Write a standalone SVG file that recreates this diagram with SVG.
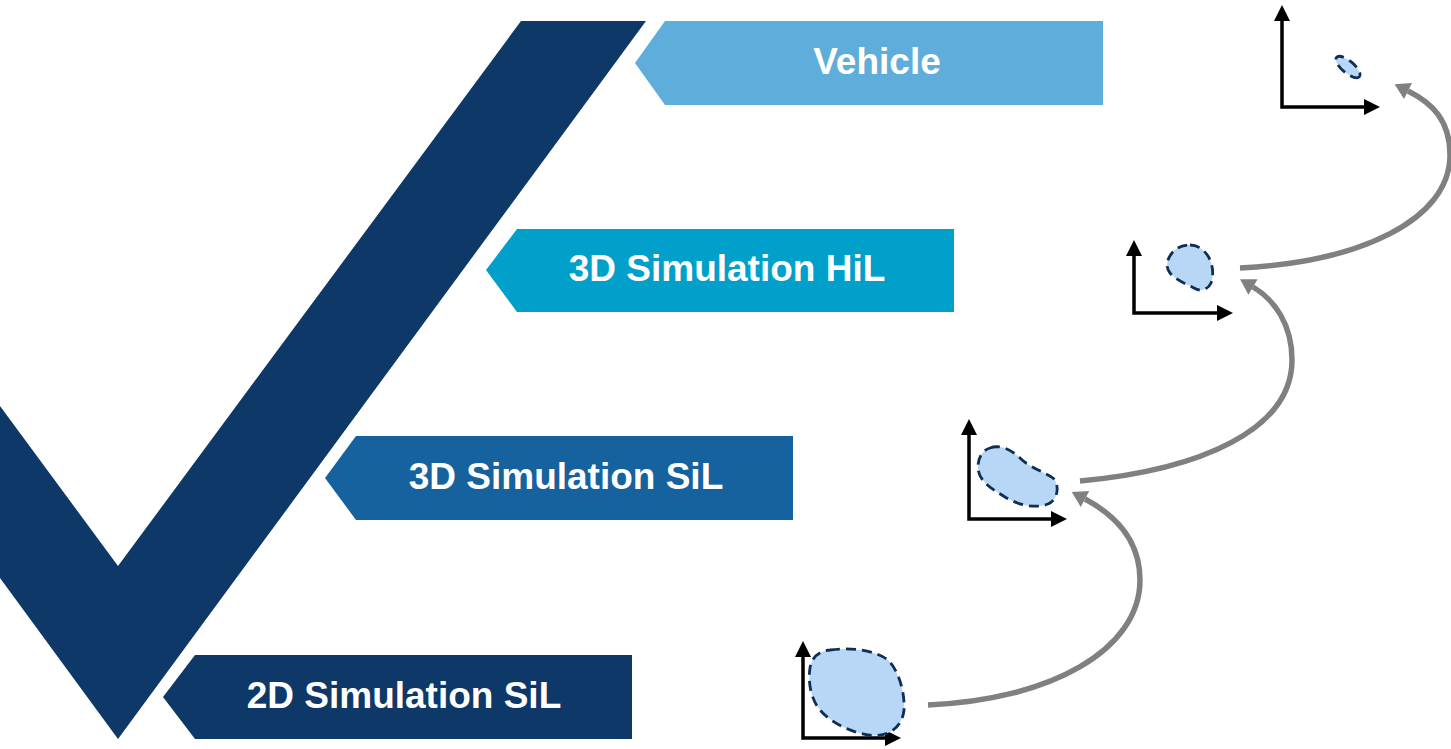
<svg xmlns="http://www.w3.org/2000/svg" width="1451" height="749" viewBox="0 0 1451 749">
<style>
.lbl{font-family:"Liberation Sans",Arial,sans-serif;font-weight:bold;font-size:37px;fill:#ffffff;text-anchor:middle}
.axis{fill:none;stroke:#000;stroke-width:3.5;marker-start:url(#ax);marker-end:url(#ax)}
.blob{fill:#B8D7F6;stroke:#0E2F55;stroke-width:2.8;stroke-dasharray:10 6}
.conn{fill:none;stroke:#808080;stroke-width:5.5;marker-end:url(#ga)}
</style>
<defs>
<marker id="ax" markerUnits="userSpaceOnUse" markerWidth="16" markerHeight="16" refX="0" refY="8" orient="auto-start-reverse" overflow="visible"><path d="M0,0 L16,8 L0,16 Z" fill="#000"/></marker>
<marker id="ga" markerUnits="userSpaceOnUse" markerWidth="16" markerHeight="18" refX="0" refY="9" orient="auto" overflow="visible"><path d="M0,0 L15,9 L0,18 Z" fill="#808080"/></marker>
</defs>
<rect width="1451" height="749" fill="#ffffff"/>
<g id="checkmark"><polygon points="521,21 646,21 118,739 0,578 0,406 118,566" fill="#0E3867"/></g>
<g id="vehicle"><polygon points="665,21 1103,21 1103,105 665,105 635,63" fill="#5EADDA"/><text class="lbl" x="877" y="74">Vehicle</text></g>
<g id="hil3d"><polygon points="517,229 954,229 954,312 517,312 486,270" fill="#00A0CA"/><text class="lbl" x="727" y="281">3D Simulation HiL</text></g>
<g id="sil3d"><polygon points="356,436 793,436 793,520 356,520 325,478" fill="#16629E"/><text class="lbl" x="566" y="489">3D Simulation SiL</text></g>
<g id="sil2d"><polygon points="195,655 632,655 632,739 195,739 163,697" fill="#0E3867"/><text class="lbl" x="404" y="708">2D Simulation SiL</text></g>
<g id="chart-vehicle"><path class="axis" d="M1282,21 L1282,107 L1364,107"/><ellipse class="blob" cx="1348" cy="67" rx="15" ry="6" transform="rotate(40 1348 67)"/></g>
<g id="chart-hil3d"><path class="axis" d="M1134,256 L1134,313 L1217,313"/><path class="blob" d="M1190,245 C1198,245 1204,250 1208,256 C1213,264 1214,275 1211,283 C1208,290 1200,292 1194,288 C1186,284 1176,280 1170,273 C1165,267 1167,259 1172,253 C1177,247 1183,245 1190,245 Z"/></g>
<g id="chart-sil3d"><path class="axis" d="M969,435 L969,519 L1051,519"/><path class="blob" d="M990,448 C1000,444 1012,450 1020,458 C1030,468 1045,472 1053,478 C1060,485 1058,500 1048,504 C1035,509 1018,505 1005,497 C990,488 978,480 978,467 C978,457 983,450 990,448 Z"/></g>
<g id="chart-sil2d"><path class="axis" d="M803,657 L803,738 L885,738"/><path class="blob" d="M830,650 C850,647 875,650 888,660 C900,672 905,695 904,710 C902,728 888,738 868,735 C850,732 830,722 820,710 C810,698 808,680 810,668 C812,656 820,651 830,650 Z"/></g>
<g id="connectors">
<path class="conn" d="M928,705 C1050,700 1140,650 1140,580 C1140,540 1115,515 1085,499"/>
<path class="conn" d="M1080,481 C1200,470 1292,430 1292,360 C1292,325 1275,300 1253,287"/>
<path class="conn" d="M1240,268 C1360,262 1450,220 1450,155 C1450,120 1432,103 1408,91"/>
</g>
</svg>
